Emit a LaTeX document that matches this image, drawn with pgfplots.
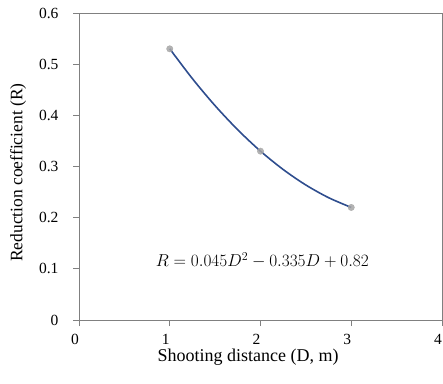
\documentclass[border=0pt]{standalone}
\usepackage{fontspec}
\setmainfont{Liberation Serif}
\usepackage{pgfplots}
\pgfplotsset{compat=1.18}
\definecolor{axgray}{HTML}{808080}
\definecolor{curveblue}{HTML}{2E4D8E}
\definecolor{mkgray}{HTML}{A6A6A6}
\begin{document}
\begin{tikzpicture}
\begin{axis}[
  at={(0,0)}, anchor=south west,
  scale only axis,
  width=363pt, height=307pt,
  xmin=0, xmax=4, ymin=0, ymax=0.6,
  xtick={0,1,2,3,4}, ytick={0,0.1,0.2,0.3,0.4,0.5,0.6},
  yticklabels={0,0.1,0.2,0.3,0.4,0.5,0.6},
  xticklabels={0,1,2,3,4},
  axis line style={axgray, line width=1pt},
  tick style={axgray, line width=1pt},
  tick align=outside, major tick length=6pt,
  xtick pos=bottom, ytick pos=left,
  tick label style={font=\fontsize{15.5}{17}\selectfont, black},
  xticklabel style={yshift=-5pt, xshift=-4pt},
  yticklabel style={xshift=-11pt},
  xlabel={Shooting distance (D, m)},
  ylabel={Reduction coefficient (R)},
  xlabel style={font=\fontsize{18}{20}\selectfont, at={(axis description cs:0.466,-0.12)}, anchor=center},
  ylabel style={font=\fontsize{17.5}{19}\selectfont, at={(axis description cs:-0.168,0.48)}, anchor=center},
  clip=false,
]
\addplot[curveblue, line width=1.6pt, smooth] coordinates {
(1.00,0.5300) (1.25,0.4716) (1.50,0.4188) (1.75,0.3716) (2.00,0.3300)
(2.25,0.2941) (2.50,0.2638) (2.75,0.2391) (3.00,0.2200)};
\addplot[only marks, mark=*, mark size=3.2pt, mark options={draw=mkgray, fill=mkgray, fill opacity=0.85, draw opacity=0.85}] coordinates {(1,0.53) (2,0.33) (3,0.22)};
\node[font=\fontsize{16.5}{18}\selectfont] at (axis cs:2.02,0.117) {$R = 0.045D^2 - 0.335D + 0.82$};
\end{axis}
\pgfresetboundingbox
\path (-79pt,-63pt) rectangle (364pt,320pt);
\end{tikzpicture}
\end{document}
